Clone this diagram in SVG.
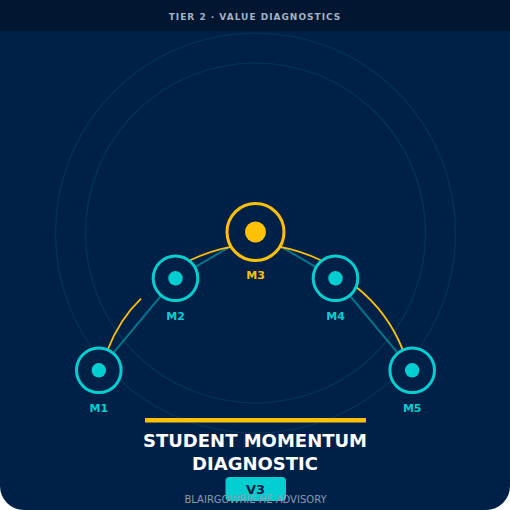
<svg xmlns="http://www.w3.org/2000/svg" width="510" height="510" viewBox="0 0 510 510">
<style>
.ring{fill:#002147;stroke:#00CED1;stroke-width:3}
.dot{fill:#00CED1}
.lbl{font-family:"DejaVu Sans",Verdana,sans-serif;font-weight:bold;font-size:11px;text-anchor:middle;fill:#00CED1}
.link{stroke:#00CED1;stroke-opacity:0.5;stroke-width:2;fill:none}
.arc{stroke:#FFC107;stroke-width:1.8;fill:none}
.orbit{fill:none;stroke:#00CED1;stroke-opacity:0.12;stroke-width:1.2}
</style>
<rect x="0" y="0" width="510" height="510" fill="#ffffff"/>
<rect x="0" y="0" width="510" height="510" rx="24" fill="#002147"/>
<rect x="0" y="0" width="510" height="31" fill="#001631"/>
<text x="255" y="20" font-family="DejaVu Sans,Verdana,sans-serif" font-weight="bold" font-size="9" letter-spacing="1" fill="#a3b3c7" text-anchor="middle">TIER 2 · VALUE DIAGNOSTICS</text>
<circle class="orbit" cx="255.5" cy="233" r="200"/>
<circle class="orbit" cx="255.5" cy="233" r="170"/>
<g id="connectors">
<line class="link" x1="98.8" y1="370.3" x2="175.5" y2="278.3"/>
<line class="link" x1="175.5" y1="278.3" x2="255.5" y2="232"/>
<line class="link" x1="255.5" y1="232" x2="335.5" y2="278.3"/>
<line class="link" x1="335.5" y1="278.3" x2="412.2" y2="370.3"/>
<path class="arc" d="M107.5,350.3 Q119.3,319.5 141,298.7"/>
<path class="arc" d="M188.5,261 Q209.2,250.8 232,246.6"/>
<path class="arc" d="M322.5,261 Q301.8,250.8 279,246.6"/>
<path class="arc" d="M355,286 Q387.8,311.8 403,350.3"/>
</g>
<g id="M1"><circle class="ring" cx="98.8" cy="370.3" r="22.3"/><circle class="dot" cx="98.8" cy="370.3" r="7.2"/><text class="lbl" x="98.8" y="412">M1</text></g>
<g id="M2"><circle class="ring" cx="175.5" cy="278.3" r="22.3"/><circle class="dot" cx="175.5" cy="278.3" r="7.2"/><text class="lbl" x="175.5" y="320">M2</text></g>
<g id="M3"><circle cx="255.5" cy="232" r="28.5" fill="#002147" stroke="#FFC107" stroke-width="3"/><circle cx="255.5" cy="232" r="10.5" fill="#FFC107"/><text class="lbl" x="255.5" y="279" fill="#FFC107" style="fill:#FFC107">M3</text></g>
<g id="M4"><circle class="ring" cx="335.5" cy="278.3" r="22.3"/><circle class="dot" cx="335.5" cy="278.3" r="7.2"/><text class="lbl" x="335.5" y="320">M4</text></g>
<g id="M5"><circle class="ring" cx="412.2" cy="370.3" r="22.3"/><circle class="dot" cx="412.2" cy="370.3" r="7.2"/><text class="lbl" x="412.2" y="412">M5</text></g>
<g id="title">
<rect x="145" y="418" width="221" height="4.5" fill="#FFC107"/>
<text x="255" y="447" font-family="DejaVu Sans,Verdana,sans-serif" font-weight="bold" font-size="18" fill="#ffffff" text-anchor="middle">STUDENT MOMENTUM</text>
<text x="255" y="470" font-family="DejaVu Sans,Verdana,sans-serif" font-weight="bold" font-size="18" fill="#ffffff" text-anchor="middle">DIAGNOSTIC</text>
<rect x="225.5" y="477" width="60.5" height="24" rx="4" fill="#00CED1"/>
<text x="255.5" y="493.5" font-family="DejaVu Sans,Verdana,sans-serif" font-weight="bold" font-size="13" fill="#002147" text-anchor="middle">V3</text>
<text x="255.5" y="502.5" font-family="DejaVu Sans,Verdana,sans-serif" font-size="10" fill="#8a9bb0" text-anchor="middle">BLAIRGOWRIE HE ADVISORY</text>
</g>
</svg>
